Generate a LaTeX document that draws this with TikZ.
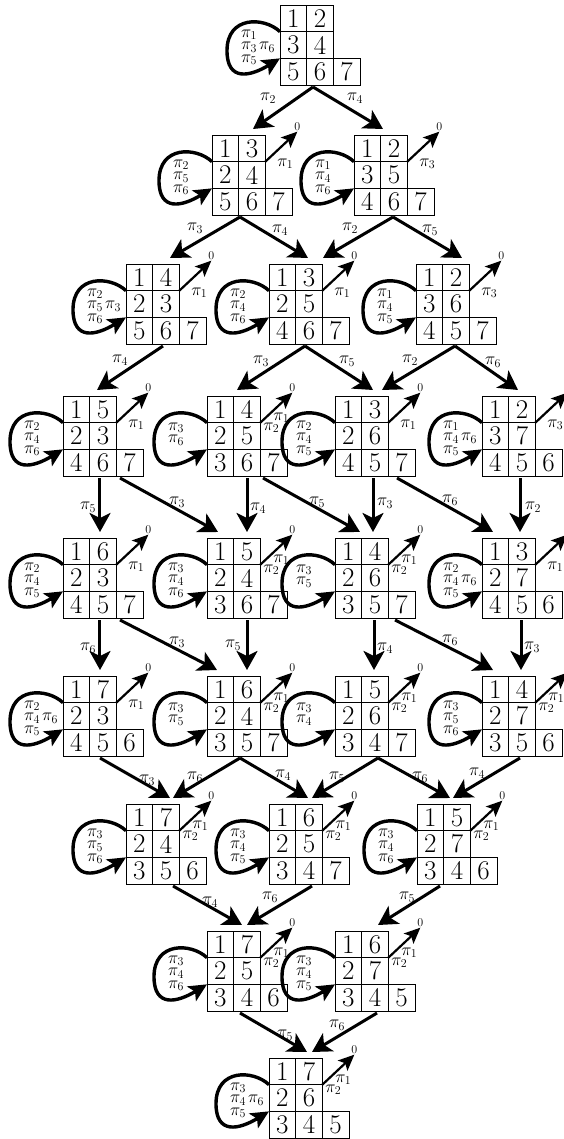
\documentclass[tikz,border=0pt]{standalone}
\usetikzlibrary{arrows.meta,calc}
\begin{document}
\begin{tikzpicture}[x=1pt,y=-1pt,
  cell/.style={draw,line width=0.9pt,minimum size=26.67pt,inner sep=0pt,outer sep=0pt,font=\fontsize{27}{27}\selectfont},
  lbl/.style={font=\fontsize{18}{18}\selectfont,inner sep=0pt},
  zero/.style={font=\fontsize{12}{12}\selectfont,inner sep=0.3pt,anchor=south},
  lp/.style={line width=3.4pt,-{Stealth[length=18pt,width=17pt,inset=4pt]}},
  edgear/.style={line width=3pt,-{Stealth[length=19pt,width=21pt,inset=5pt]}},
  zar/.style={line width=2.2pt,-{Stealth[length=16pt,width=14pt,inset=3.5pt]}}]
\useasboundingbox (0,0) rectangle (564,1139);
\fill[white] (0,0) rectangle (564,1139);
% tableaux
\foreach \na/\xa/\ya/\ea/\eb/\ec/\ed/\ee/\ef/\eg in {
 T0/280/5/1/2/3/4/5/6/7,
 A1/212/135/1/3/2/4/5/6/7,
 B1/354/135/1/2/3/5/4/6/7,
 A2/126/264/1/4/2/3/5/6/7,
 B2/269/264/1/3/2/5/4/6/7,
 C2/416/264/1/2/3/6/4/5/7,
 A3/63/396/1/5/2/3/4/6/7,
 B3/207/396/1/4/2/5/3/6/7,
 C3/335/396/1/3/2/6/4/5/7,
 D3/482/396/1/2/3/7/4/5/6,
 A4/63/538/1/6/2/3/4/5/7,
 B4/207/538/1/5/2/4/3/6/7,
 C4/335/538/1/4/2/6/3/5/7,
 D4/482/538/1/3/2/7/4/5/6,
 A5/63/676/1/7/2/3/4/5/6,
 B5/207/676/1/6/2/4/3/5/7,
 C5/335/676/1/5/2/6/3/4/7,
 D5/482/676/1/4/2/7/3/5/6,
 A6/126/804/1/7/2/4/3/5/6,
 B6/269/804/1/6/2/5/3/4/7,
 C6/417/804/1/5/2/7/3/4/6,
 A7/207/931/1/7/2/5/3/4/6,
 B7/335/931/1/6/2/7/3/4/5,
 A8/269/1058/1/7/2/6/3/4/5}{
  \node[cell] (\na-11) at ({\xa+13.333},{\ya+13.333}) {\ea};
  \node[cell] (\na-12) at ({\xa+40},{\ya+13.333}) {\eb};
  \node[cell] (\na-21) at ({\xa+13.333},{\ya+40}) {\ec};
  \node[cell] (\na-22) at ({\xa+40},{\ya+40}) {\ed};
  \node[cell] (\na-31) at ({\xa+13.333},{\ya+66.667}) {\ee};
  \node[cell] (\na-32) at ({\xa+40},{\ya+66.667}) {\ef};
  \node[cell] (\na-33) at ({\xa+66.667},{\ya+66.667}) {\eg};
  \draw[lp,shift={(\na-21.north west)}] (\na-21.north west)
     .. controls (-16,-15) and (-53,-16) .. (-53,19)
     .. controls (-53,50) and (-30,45) .. (\na-31.north west);
}
% loop labels, three lines
\foreach \na/\la/\lb/\lc in {T0/1/3/5,A1/2/5/6,B1/1/4/6,A2/2/5/6,B2/2/4/6,C2/1/4/5,A3/2/4/6,C3/2/4/5,D3/1/4/5,A4/2/4/5,B4/3/4/6,D4/2/4/5,A5/2/4/5,D5/3/5/6,A6/3/5/6,B6/3/4/5,C6/3/4/6,A7/3/4/6,B7/3/4/5,A8/3/4/5}{
  \node[lbl] (\na-l1) at ($(\na-21.north west)+(-31,3)$) {$\pi_{\la}$};
  \node[lbl] (\na-l2) at ($(\na-21.north west)+(-31,15.5)$) {$\pi_{\lb}$};
  \node[lbl] (\na-l3) at ($(\na-21.north west)+(-31,28)$) {$\pi_{\lc}$};
}
% loop labels, two lines
\foreach \na/\la/\lb in {B3/3/6,C4/3/5,B5/3/5,C5/3/4}{
  \node[lbl] (\na-l1) at ($(\na-21.north west)+(-31,5)$) {$\pi_{\la}$};
  \node[lbl] (\na-l2) at ($(\na-21.north west)+(-31,17.5)$) {$\pi_{\lb}$};
}
% extra label beside the second line
\foreach \na/\la in {T0/6,A2/3,D3/6,D4/6,A5/6,A8/6}{
  \node[lbl] (\na-lx) at ($(\na-21.north west)+(-13,15.5)$) {$\pi_{\la}$};
}
% arrows to 0
\foreach \na in {A1,B1,A2,B2,C2,A3,B3,C3,D3,A4,B4,C4,D4,A5,B5,C5,D5,A6,B6,C6,A7,B7,A8}{
  \coordinate (\na-zt) at ($(\na-12.south east)+(32,-30)$);
  \draw[zar] (\na-12.south east) -- (\na-zt);
  \node[zero] (\na-z) at (\na-zt) {0};
}
\foreach \na/\la in {A1/1,B1/3,A2/1,B2/1,C2/3,A3/1,C3/1,D3/3,A4/1,D4/1,A5/1}{
  \node[lbl] (\na-zl) at ($(\na-12.south east)+(20,2)$) {$\pi_{\la}$};
}
\foreach \na in {B3,B4,C4,B5,C5,D5,A6,B6,C6,A7,B7,A8}{
  \node[lbl] (\na-zl2) at ($(\na-12.south east)+(11,5)$) {$\pi_2$};
  \node[lbl] (\na-zl1) at ($(\na-12.south east)+(21,-5)$) {$\pi_1$};
}
% edges between tableaux
\foreach \sa/\sd/\ta/\td/\lk/\lx/\ly in {
 T0/33/A1/41/2/268/98,
 T0/33/B1/29/4/355/98,
 A1/28/A2/44/3/195/228,
 A1/28/B2/39/4/280/230,
 B1/39/B2/54/2/350/228,
 B1/39/C2/46/5/430/230,
 A2/37/A3/34/4/120/360,
 B2/36/B3/30/3/261/361,
 B2/36/C3/38/5/347/361,
 C2/39/C3/47/2/410/360,
 C2/39/D3/36/6/493/362,
 A3/37/A4/37/5/88/507,
 A3/57/B4/11/3/177/502,
 B3/40/B4/40/4/258/508,
 B3/56/C4/25/5/317/502,
 C3/38/C4/38/3/385/503,
 C3/62/D4/11/6/450/500,
 D3/38/D4/38/2/533/507,
 A4/37/A5/37/6/88/648,
 A4/57/B5/10/3/177/642,
 B4/40/B5/40/5/233/645,
 C4/39/C5/39/4/385/648,
 C4/60/D5/11/6/450/640,
 D4/39/D5/39/3/532/647,
 A5/37/A6/44/3/147/780,
 B5/33/A6/47/6/195/777,
 B5/33/B6/39/4/283/775,
 C5/43/B6/43/5/337/777,
 C5/43/C6/33/6/420/777,
 D5/38/C6/36/4/477/773,
 A6/47/A7/35/4/210/902,
 B6/43/A7/40/6/270/897,
 C6/23/B7/43/5/407/897,
 A7/33/A8/38/5/285/1035,
 B7/42/A8/43/6/337/1025}{
  \draw[edgear] ($(\sa-31.south west)+(\sd,2)$) -- ($(\ta-11.north west)+(\td,-6)$);
  \node[lbl] (e-\sa-\ta) at (\lx,\ly) {$\pi_{\lk}$};
}
\end{tikzpicture}
\end{document}
